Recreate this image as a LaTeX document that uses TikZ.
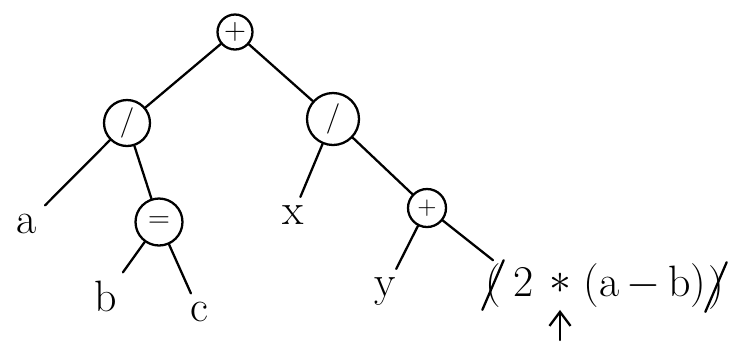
\documentclass[tikz,border=0pt]{standalone}
\usetikzlibrary{arrows.meta}
\begin{document}
\begin{tikzpicture}[x=0.02cm,y=-0.02cm,
  line width=1.3pt, line cap=round,
  op/.style={circle,draw,line width=1.3pt,inner sep=0pt,font=\fontsize{18}{20}\selectfont},
  leaf/.style={anchor=base,inner sep=4pt,font=\fontsize{25}{30}\selectfont},
  expr/.style={anchor=base,inner sep=1pt,font=\fontsize{25}{30}\selectfont},
  edge/.style={line width=1.3pt},
  strike/.style={line width=1.3pt}]
\useasboundingbox (0,0) rectangle (749,353);

% operator nodes
\node[op,minimum size=0.70cm] (root) at (235,32) {$+$};
\node[op,minimum size=0.92cm] (l1) at (127,123) {$/$};
\node[op,minimum size=1.04cm] (r1) at (333,119) {$/$};
\node[op,minimum size=0.94cm] (eq) at (159,222) {$=$};
\node[op,minimum size=0.76cm,font=\fontsize{14}{16}\selectfont] (pl) at (427,208) {$+$};

% leaves (positions are baselines)
\node[leaf] (a) at (27,233) {a};
\node[leaf] (x) at (293,224) {x};
\node[leaf] (b) at (106,311) {b};
\node[leaf] (c) at (199,321) {c};
\node[leaf] (y) at (385,296) {y};

% expression
\node[expr] (lp) at (493,296) {(};
\node[expr] (two) at (524,296) {2};
\node[expr,inner sep=2pt] (star) at (560,293) {$\ast$};
\node[expr] (inner) at (645,296) {(a\,$-$\,b)};
\node[expr] (rp) at (716,298) {)};
\coordinate (arrbase) at (560,340);

% edges
\draw[edge] (root) -- (l1);
\draw[edge] (root) -- (r1);
\draw[edge] (l1) -- (a);
\draw[edge] (l1) -- (eq);
\draw[edge] (r1) -- (x);
\draw[edge] (r1) -- (pl);
\draw[edge] (eq) -- (b);
\draw[edge] (eq) -- (c);
\draw[edge] (pl) -- (y);
\draw[edge] (pl) -- (lp.north);

% strikes over outer parentheses
\draw[strike] (lp.south west) -- (lp.north east);
\draw[strike] (rp.south west) -- (rp.north east);

% arrow
\draw[edge,-{Straight Barb[length=8pt,width=12pt]},shorten >=7pt] (arrbase) -- (star.south);
\end{tikzpicture}
\end{document}
